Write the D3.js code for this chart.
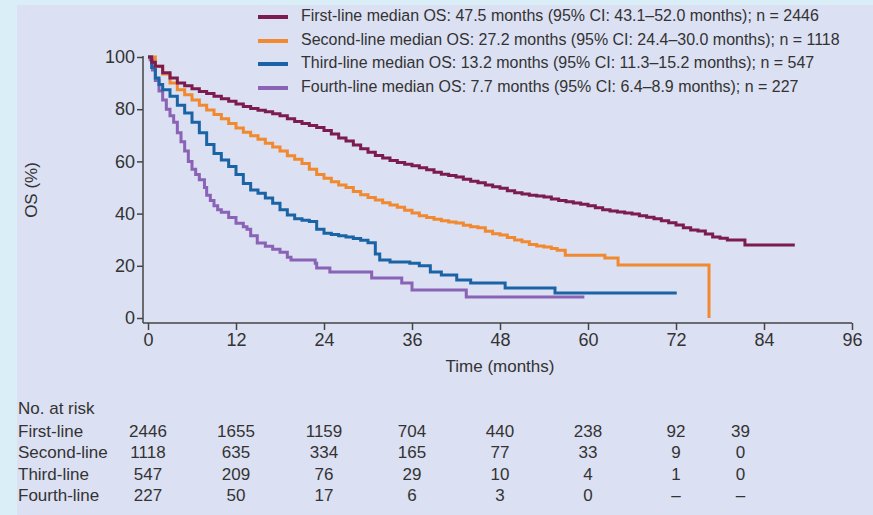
<!DOCTYPE html>
<html>
<head>
<meta charset="utf-8">
<script src="https://cdn.jsdelivr.net/npm/d3@7"></script>
<style>
  html, body { margin: 0; padding: 0; background: #d9eef6; }
  svg { display: block; }
  text { font-family: 'Liberation Sans', Arial, sans-serif; fill: #333; }
</style>
</head>
<body>
<svg id="chart" width="873" height="515"></svg>
<script>
// Kaplan-Meier OS by treatment line
const lineNames = ["First-line", "Second-line", "Third-line", "Fourth-line"];

const legendLabels = [
  "First-line median OS: 47.5 months (95% CI: 43.1–52.0 months); n = 2446",
  "Second-line median OS: 27.2 months (95% CI: 24.4–30.0 months); n = 1118",
  "Third-line median OS: 13.2 months (95% CI: 11.3–15.2 months); n = 547",
  "Fourth-line median OS: 7.7 months (95% CI: 6.4–8.9 months); n = 227"
];

// [months, OS %]
const firstLine = [
  [0,100],[0.5,98],[1,96.5],[2,94],[3,92],[4,90],[5,89],[6,87.8],[7,86.8],[8,86],
  [9,85],[10,84],[11,83],[12,82],[13,81],[14,80.3],[15,79.6],[16,79],[17,78.3],[18,77.5],
  [19,76.3],[20,75.3],[21,74.5],[22,73.8],[23,73],[24,71.8],[25,70.5],[26,69],[27,67.8],[28,66.3],
  [29,64.8],[30,63.5],[31,62.3],[32,61.3],[33,60.3],[34,59.6],[35,58.9],[36,58.3],[37,57.6],[38,56.8],
  [39,55.8],[40,55.1],[41,54.6],[42,54],[43,53.2],[44,52.4],[45,51.8],[46,51],[47,50.3],[48,49.7],
  [49,48.8],[50,48],[51,47.5],[52,47],[53,46.7],[54,46.4],[55,45.6],[56,45],[57,44.5],[58,44.1],
  [59,43.6],[60,43],[61,42.2],[62,41.5],[63,41],[64,40.6],[65,40.2],[66,39.8],[67,39.2],[68,38.6],
  [69,38],[70,37.3],[71,36.5],[72,35.6],[73,34.6],[74,33.7],[75,33.3],[76,32.2],[77,31],[78,30.6],
  [79,29.9],[81.4,28],[88.2,28]
];
const secondLine = [
  [0,100],[1,96.5],[2,93.5],[3,90],[4,87.5],[5,85.5],[6,83.5],[7,81.5],[8,79.7],[9,78],
  [10,76.3],[11,74.5],[12,72.8],[13,71.2],[14,69.8],[15,68.5],[16,67],[17,65.5],[18,64],[19,62.2],
  [20,60.8],[21,59.2],[22,57],[23,55],[24,53.5],[25,52.2],[26,51],[27,50],[28,48.5],[29,47.2],
  [30,46.2],[31,45.2],[32,44.2],[33,43.3],[34,42.4],[35,41.3],[36,40.2],[37,39.2],[38,38.5],[39,37.8],
  [40,37.3],[41,36.8],[42,36.4],[43,35.5],[44,35],[45,34.6],[46,33.2],[47,32.3],[48,31.8],[49,30.8],
  [50,29.9],[51,29.2],[52,28.2],[53,27.6],[54,27.2],[55,26.6],[55.8,26],[56.9,24],[62.3,23],[64.1,20.3],
  [76.5,0],[76.5,0]
];
const thirdLine = [
  [0,100],[0.5,96],[1,92],[1.5,89.5],[2,87.5],[3,85],[4,81.5],[5,78.5],[6,75],[7,71],
  [8,66.5],[9,63],[10,60.5],[11,58],[12,55],[13,51.5],[14,49],[15,47.8],[16,46],[17,44],
  [18,41.5],[19,39.5],[20,38],[21,37.5],[22,37],[23,34],[24,32.5],[25,32],[26,31.5],[27,31],
  [28,30.5],[29,29.8],[30,28.8],[31,24.5],[31.6,22.2],[33,21.5],[35.7,21],[37,20],[38.5,17.6],[40,16.5],
  [42.1,14.6],[44,13.4],[48.7,11.5],[55.5,9.6],[72.1,9.6]
];
const fourthLine = [
  [0,100],[0.3,98.9],[0.6,95],[1,91],[1.5,87],[2,83.5],[2.5,80],[3,77.5],[3.5,75],[4,71],
  [4.5,67.5],[5,64],[5.5,60],[6,57],[6.5,55],[7,53],[7.7,50],[8,47],[8.5,45],[9,43],
  [9.5,41.5],[10,40.5],[11,38.5],[12,36.3],[13,35],[13.5,34],[14,31.5],[14.9,28.7],[16,27.5],[17,26.3],
  [18,25.2],[19,23.3],[19.5,22.2],[22.8,21],[23,19.2],[24.8,17.6],[30.5,15.3],[34.6,13.4],[36,10.7],[43.4,8],
  [59.5,8]
];
const curves = [firstLine, secondLine, thirdLine, fourthLine];

const xTicks = [0, 12, 24, 36, 48, 60, 72, 84, 96];
const yTicks = [0, 20, 40, 60, 80, 100];

// numbers at risk, columns at these months
const riskTimes = [0, 12, 24, 36, 48, 60, 72, 80.8];
const riskFirst  = ["2446", "1655", "1159", "704", "440", "238", "92", "39"];
const riskSecond = ["1118", "635", "334", "165", "77", "33", "9", "0"];
const riskThird  = ["547", "209", "76", "29", "10", "4", "1", "0"];
const riskFourth = ["227", "50", "17", "6", "3", "0", "–", "–"];
const riskRows = [riskFirst, riskSecond, riskThird, riskFourth];

// styles
const colors = ["#7b1b4f", "#f0892f", "#1a64a6", "#8a62b6"];
const axisColor = "#444";

const svg = d3.select("#chart");

svg.append("rect")
  .attr("x", 17).attr("y", 5)
  .attr("width", 873 - 17).attr("height", 515 - 5)
  .attr("fill", "#dbe0f2");

const x = d3.scaleLinear().domain([0, 96]).range([148, 852]);
const y = d3.scaleLinear().domain([0, 100]).range([318, 57]);
const axisY = 323;

// y axis
const gy = svg.append("g")
  .attr("transform", "translate(143,0)")
  .call(d3.axisLeft(y).tickValues(yTicks).tickSize(6).tickPadding(2));
gy.select(".domain").remove();
gy.selectAll(".tick line").attr("stroke", axisColor).attr("stroke-width", 1.5);
gy.selectAll(".tick text").style("font-size", "18px").attr("fill", "#333");
gy.append("line")
  .attr("x1", 0).attr("x2", 0)
  .attr("y1", y(100) - 1).attr("y2", axisY)
  .attr("stroke", axisColor).attr("stroke-width", 1.5);

// x axis
const gx = svg.append("g")
  .attr("transform", `translate(0,${axisY})`)
  .call(d3.axisBottom(x).tickValues(xTicks).tickSize(7).tickPadding(3));
gx.select(".domain").remove();
gx.selectAll(".tick line").attr("stroke", axisColor).attr("stroke-width", 1.5);
gx.selectAll(".tick text").style("font-size", "18px").attr("fill", "#333");
gx.append("line")
  .attr("x1", 143).attr("x2", x(96))
  .attr("y1", 0).attr("y2", 0)
  .attr("stroke", axisColor).attr("stroke-width", 1.5);

svg.append("text")
  .attr("x", x(48)).attr("y", 368)
  .attr("text-anchor", "middle")
  .attr("dominant-baseline", "middle")
  .style("font-size", "17px")
  .text("Time (months)");

svg.append("text")
  .attr("transform", "translate(33,190) rotate(-90)")
  .attr("text-anchor", "middle")
  .attr("dominant-baseline", "middle")
  .style("font-size", "17px")
  .text("OS (%)");

// curves
const line = d3.line()
  .x(d => x(d[0]))
  .y(d => y(d[1]))
  .curve(d3.curveStepAfter);

svg.append("g").selectAll("path")
  .data(curves.slice().reverse())
  .join("path")
  .attr("d", line)
  .attr("fill", "none")
  .attr("stroke", (d, i) => colors[curves.length - 1 - i])
  .attr("stroke-width", 3)
  .attr("stroke-linejoin", "miter");

// legend (text squeezed a little, the original face is a narrow one)
const legendY = [17, 41, 64, 88];
const legend = svg.append("g").selectAll("g")
  .data(legendLabels)
  .join("g")
  .attr("transform", (d, i) => `translate(0,${legendY[i]})`);
legend.append("line")
  .attr("x1", 258).attr("x2", 288)
  .attr("stroke", (d, i) => colors[i])
  .attr("stroke-width", 4);
legend.append("text")
  .attr("transform", "translate(301,0) scale(0.94,1)")
  .attr("dominant-baseline", "middle")
  .style("font-size", "17px")
  .text(d => d);

// numbers at risk table
svg.append("text")
  .attr("x", 18).attr("y", 410)
  .attr("dominant-baseline", "middle")
  .style("font-size", "17px")
  .text("No. at risk");

const rowY = [433, 454, 476, 497];
riskRows.forEach((row, r) => {
  svg.append("text")
    .attr("x", 18).attr("y", rowY[r])
    .attr("dominant-baseline", "middle")
    .style("font-size", "17px")
    .text(lineNames[r]);
  svg.append("g").selectAll("text")
    .data(row)
    .join("text")
    .attr("x", (d, i) => x(riskTimes[i]))
    .attr("y", rowY[r])
    .attr("text-anchor", "middle")
    .attr("dominant-baseline", "middle")
    .style("font-size", "17px")
    .text(d => d);
});
</script>
</body>
</html>
